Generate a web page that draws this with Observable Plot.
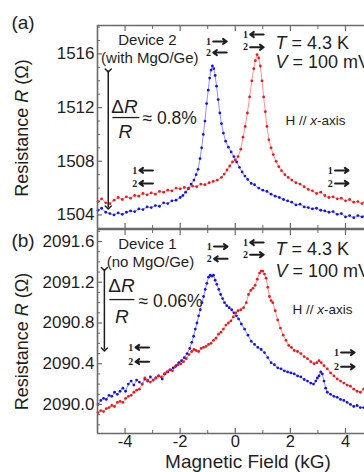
<!DOCTYPE html>
<html><head><meta charset="utf-8">
<script src="https://cdn.jsdelivr.net/npm/d3@7"></script>
<script src="https://cdn.jsdelivr.net/npm/@observablehq/plot@0.6"></script>
<style>
body{margin:0;background:#fff;}
#wrap{position:relative;width:364px;height:472px;overflow:hidden;background:#fff;}
#wrap svg{position:absolute;left:0;}
text{white-space:pre;}
</style></head><body><div id="wrap"></div>
<script>
// ---------- Panel (a): Device 2 (with MgO/Ge) ----------
const fieldBlueA = [-4.98,-4.85,-4.7,-4.55,-4.4,-4.25,-4.1,-3.95,-3.8,-3.65,-3.5,-3.35,-3.2,-3.05,-2.9,-2.75,-2.6,-2.45,-2.3,-2.15,-2.0,-1.9,-1.8,-1.7,-1.6,-1.5,-1.42,-1.35,-1.28,-1.22,-1.16,-1.1,-1.04,-0.98,-0.93,-0.88,-0.83,-0.78,-0.73,-0.68,-0.62,-0.56,-0.5,-0.43,-0.35,-0.25,-0.15,-0.05,0.05,0.15,0.25,0.35,0.45,0.58,0.7,0.85,1.0,1.15,1.3,1.45,1.6,1.75,1.9,2.05,2.2,2.35,2.5,2.65,2.8,2.95,3.1,3.25,3.4,3.55,3.7,3.85,4.0,4.15,4.3,4.45,4.6,4.7];
const resBlueA = [1504.35,1504.5,1504.2,1504.1,1504.0,1504.15,1504.05,1504.2,1504.3,1504.25,1504.45,1504.4,1504.6,1504.55,1504.7,1504.65,1504.9,1504.85,1505.05,1505.1,1505.3,1505.45,1505.7,1505.95,1506.3,1506.6,1507.0,1507.4,1508.2,1509.0,1510.0,1511.0,1512.3,1513.3,1514.2,1514.8,1515.1,1514.9,1514.4,1513.6,1512.6,1511.6,1510.8,1510.1,1509.5,1509.05,1508.7,1508.35,1507.95,1507.55,1507.2,1506.9,1506.65,1506.35,1506.25,1506.0,1505.85,1505.75,1505.55,1505.4,1505.3,1505.15,1505.05,1504.95,1504.75,1504.8,1504.6,1504.55,1504.45,1504.5,1504.35,1504.3,1504.2,1504.25,1504.05,1504.1,1503.85,1503.95,1503.8,1503.95,1503.85,1503.9];
const fieldRedA = [-4.98,-4.85,-4.7,-4.55,-4.4,-4.25,-4.1,-3.95,-3.8,-3.65,-3.5,-3.35,-3.2,-3.05,-2.9,-2.75,-2.6,-2.45,-2.3,-2.15,-2.0,-1.85,-1.7,-1.55,-1.4,-1.25,-1.1,-0.95,-0.8,-0.65,-0.5,-0.4,-0.3,-0.2,-0.1,0.0,0.1,0.2,0.28,0.36,0.44,0.52,0.6,0.67,0.73,0.79,0.85,0.91,0.97,1.03,1.09,1.15,1.22,1.3,1.38,1.48,1.58,1.68,1.8,1.92,2.05,2.2,2.35,2.5,2.65,2.8,2.95,3.1,3.25,3.4,3.55,3.7,3.85,4.0,4.15,4.3,4.45,4.6,4.7];
const resRedA = [1505.0,1505.2,1504.9,1504.85,1505.1,1505.3,1505.15,1505.35,1505.25,1505.45,1505.4,1505.6,1505.5,1505.65,1505.55,1505.75,1505.7,1505.85,1505.8,1506.0,1505.95,1506.05,1506.0,1506.15,1506.1,1506.3,1506.25,1506.4,1506.5,1506.6,1506.8,1507.05,1507.35,1507.65,1507.95,1508.1,1508.35,1508.9,1509.8,1510.6,1511.6,1512.8,1514.0,1514.9,1515.5,1515.95,1515.7,1515.1,1514.0,1512.8,1511.7,1510.6,1509.6,1509.0,1508.5,1508.0,1507.6,1507.3,1507.0,1506.8,1506.6,1506.4,1506.3,1506.1,1505.9,1505.8,1505.6,1505.7,1505.45,1505.3,1505.35,1505.2,1505.25,1505.05,1505.15,1504.95,1505.0,1504.85,1504.95];

// ---------- Panel (b): Device 1 (no MgO/Ge) ----------
const fieldBlueB = [-4.98,-4.88,-4.78,-4.68,-4.58,-4.48,-4.38,-4.28,-4.18,-4.08,-3.98,-3.88,-3.78,-3.68,-3.58,-3.48,-3.38,-3.28,-3.18,-3.08,-2.98,-2.88,-2.78,-2.65,-2.55,-2.45,-2.35,-2.25,-2.15,-2.05,-1.95,-1.85,-1.75,-1.65,-1.58,-1.51,-1.45,-1.39,-1.33,-1.27,-1.21,-1.15,-1.09,-1.03,-0.97,-0.91,-0.85,-0.79,-0.73,-0.67,-0.6,-0.53,-0.46,-0.39,-0.31,-0.22,-0.13,-0.05,0.04,0.12,0.22,0.34,0.46,0.58,0.7,0.82,0.94,1.06,1.18,1.3,1.42,1.54,1.66,1.78,1.9,2.02,2.14,2.26,2.38,2.5,2.62,2.74,2.84,2.92,2.98,3.04,3.1,3.16,3.22,3.28,3.34,3.46,3.58,3.7,3.82,3.94,4.06,4.18,4.3,4.42,4.54,4.66];
const resBlueB = [2090.0,2090.04,2090.06,2090.05,2090.09,2090.08,2090.12,2090.1,2090.13,2090.16,2090.13,2090.2,2090.23,2090.19,2090.24,2090.22,2090.2,2090.25,2090.23,2090.27,2090.24,2090.26,2090.28,2090.25,2090.3,2090.32,2090.34,2090.36,2090.38,2090.41,2090.43,2090.46,2090.5,2090.55,2090.61,2090.67,2090.74,2090.8,2090.87,2090.93,2091.0,2091.06,2091.13,2091.19,2091.25,2091.27,2091.26,2091.27,2091.22,2091.18,2091.13,2091.08,2091.04,2091.0,2090.97,2090.95,2090.93,2090.9,2090.87,2090.84,2090.79,2090.74,2090.68,2090.62,2090.59,2090.56,2090.54,2090.51,2090.46,2090.41,2090.39,2090.36,2090.35,2090.33,2090.32,2090.31,2090.3,2090.28,2090.27,2090.245,2090.23,2090.21,2090.2,2090.23,2090.26,2090.28,2090.32,2090.3,2090.23,2090.16,2090.12,2090.1,2090.08,2090.07,2090.05,2090.04,2090.02,2090.0,2089.98,2089.99,2089.97,2089.97];
const fieldRedB = [-4.98,-4.88,-4.78,-4.68,-4.58,-4.48,-4.38,-4.28,-4.18,-4.08,-3.98,-3.88,-3.78,-3.68,-3.58,-3.48,-3.38,-3.28,-3.18,-3.08,-2.98,-2.88,-2.78,-2.68,-2.58,-2.48,-2.38,-2.28,-2.18,-2.08,-1.98,-1.88,-1.78,-1.68,-1.58,-1.5,-1.42,-1.33,-1.24,-1.15,-1.06,-0.97,-0.88,-0.79,-0.7,-0.61,-0.52,-0.43,-0.34,-0.25,-0.16,-0.07,0.02,0.1,0.2,0.3,0.4,0.48,0.56,0.64,0.72,0.8,0.88,0.94,1.0,1.06,1.12,1.18,1.24,1.3,1.36,1.45,1.54,1.64,1.74,1.84,1.94,2.04,2.14,2.26,2.38,2.5,2.62,2.74,2.86,2.96,3.04,3.12,3.22,3.34,3.46,3.58,3.7,3.82,3.94,4.06,4.18,4.3,4.42,4.54,4.66];
const resRedB = [2089.92,2089.94,2089.93,2089.96,2089.97,2089.99,2089.98,2090.02,2090.03,2090.02,2090.06,2090.08,2090.09,2090.12,2090.14,2090.15,2090.2,2090.26,2090.24,2090.22,2090.24,2090.26,2090.28,2090.27,2090.3,2090.32,2090.34,2090.33,2090.37,2090.39,2090.4,2090.42,2090.45,2090.49,2090.52,2090.54,2090.53,2090.52,2090.55,2090.56,2090.57,2090.59,2090.6,2090.63,2090.65,2090.69,2090.71,2090.74,2090.78,2090.8,2090.82,2090.86,2090.9,2090.92,2090.93,2090.95,2091.0,2091.08,2091.12,2091.14,2091.17,2091.23,2091.29,2091.31,2091.31,2091.28,2091.24,2091.15,2091.06,2091.02,2091.0,2090.92,2090.83,2090.75,2090.68,2090.63,2090.58,2090.56,2090.53,2090.52,2090.5,2090.47,2090.45,2090.42,2090.4,2090.41,2090.43,2090.41,2090.38,2090.35,2090.31,2090.28,2090.25,2090.23,2090.21,2090.19,2090.18,2090.15,2090.13,2090.12,2090.15];

// ---------- Ticks ----------
const xTicksMajor = [-4, -2, 0, 2, 4];
const xTicksMinor = [-5, -3, -1, 1, 3];
const yTicksMajorA = [1504, 1508, 1512, 1516];
const yTicksMinorA = [1503, 1505, 1506, 1507, 1509, 1510, 1511, 1513, 1514, 1515, 1517, 1518];
const yTicksMajorB = [2090.0, 2090.4, 2090.8, 2091.2, 2091.6];
const yTicksMinorB = d3.range(20898, 20918).map(v => v / 10).filter(v => !yTicksMajorB.some(m => Math.abs(m - v) < 1e-6));

// ---------- Styles ----------
const FONT = '"Liberation Sans", Arial, sans-serif';
const axisColor = "#6a6a6a";
const ink = "#1e1e1e";
const redDot = "#f01818", redLine = "#ff9090";
const blueDot = "#1414e6", blueLine = "#8f8fff";
const xDomain = [-5, 4.69];

const rich = {
  "Resistance R (Ω)": [["Resistance ", false], ["R", true], [" (Ω)", false]],
  "T = 4.3 K": [["T", true], [" = 4.3 K", false]],
  "V = 100 mV": [["V", true], [" = 100 mV", false]],
  "H // x-axis": [["H // ", false], ["x", true], ["-axis", false]],
  "ΔR": [["Δ", false], ["R", true]],
  "R": [["R", true]]
};
function richify(svg) {
  d3.select(svg).selectAll("text").each(function () {
    const parts = rich[this.textContent];
    if (!parts) return;
    const t = d3.select(this);
    t.text(null);
    parts.forEach(([s, it]) => t.append("tspan").attr("font-style", it ? "italic" : "normal").text(s));
  });
}

function series(H, R) { return H.map((h, i) => ({h, r: R[i]})); }

const tickY = (ticks, size, w) => Plot.axisY(ticks, {anchor: "left", tickSize: size, fill: "none", label: null, stroke: axisColor, strokeWidth: w});
const tickX = (ticks, anchor, size, w) => Plot.axisX(ticks, {anchor, tickSize: size, fill: "none", label: null, stroke: axisColor, strokeWidth: w});

function panel(cfg) {
  const blue = series(cfg.blueH, cfg.blueR);
  const red = series(cfg.redH, cfg.redR);
  const yD = cfg.yDomain;
  const marks = [
    // data
    Plot.line(blue, {x: "h", y: "r", stroke: blueLine, strokeWidth: 1}),
    Plot.line(red, {x: "h", y: "r", stroke: redLine, strokeWidth: 1}),
    Plot.dot(blue, {x: "h", y: "r", r: 1.4, fill: blueDot}),
    Plot.dot(red, {x: "h", y: "r", r: 1.4, fill: redDot}),
    // frame
    Plot.ruleX([xDomain[0]], {stroke: axisColor, strokeWidth: 1.6}),
    Plot.ruleY([yD[0]], {stroke: axisColor, strokeWidth: 1.6}),
    Plot.ruleY([yD[1]], {stroke: axisColor, strokeWidth: 1.6}),
    // inward ticks
    tickY(cfg.yMajor, -5, 1.2),
    tickY(cfg.yMinor, -3, 1),
    tickX(xTicksMajor, "bottom", -5, 1.2),
    tickX(xTicksMinor, "bottom", -3, 1),
    tickX(xTicksMajor, "top", -5, 1.2),
    tickX(xTicksMinor, "top", -3, 1),
    Plot.axisY(cfg.yMajor, {anchor: "left", tickSize: 0, tickPadding: 3, tickFormat: cfg.yFormat, fontSize: 17, fill: ink, label: null}),
    // y title
    Plot.text(["Resistance R (Ω)"], {frameAnchor: "left", textAnchor: "middle", lineAnchor: "middle", dx: -75, dy: cfg.titleDy, rotate: -90, fontSize: 18, fill: ink}),
    // panel letter
    Plot.text([cfg.letter], {frameAnchor: "top-left", textAnchor: "middle", lineAnchor: "middle", dx: -74.5, dy: cfg.letterDy, fontSize: 19, fill: ink}),
    // device labels
    Plot.text(cfg.device, {x: "h", y: "r", text: "t", fontSize: 15, fill: ink}),
    // conditions
    Plot.text(cfg.cond, {x: "h", y: "r", text: "t", fontSize: 18, textAnchor: "start", fill: ink}),
    Plot.text(cfg.hx, {x: "h", y: "r", text: "t", fontSize: 13.5, textAnchor: "start", fill: ink}),
    // Delta R / R
    Plot.link(cfg.bigArrow, {x1: "h", x2: "h", y1: "r1", y2: "r2", stroke: ink, strokeWidth: 1.5, markerStart: "arrow", markerEnd: "arrow"}),
    Plot.text(cfg.frac, {x: "h", y: "r", text: "t", fontSize: 19, fill: ink}),
    Plot.link(cfg.fracBar, {x1: "h1", x2: "h2", y1: "r", y2: "r", stroke: ink, strokeWidth: 1.3}),
    Plot.text(cfg.ratio, {x: "h", y: "r", text: "t", fontSize: 17.5, textAnchor: "start", fill: ink}),
    // sweep direction labels
    Plot.text(cfg.sweeps, {x: "h", y: "r", text: "n", fontSize: 10, fontWeight: "bold", fontFamily: '"Liberation Serif", serif', fill: ink}),
    Plot.arrow(cfg.sweeps, {
      x1: d => d.h + (d.dir > 0 ? 0.17 : 0.66), x2: d => d.h + (d.dir > 0 ? 0.66 : 0.17),
      y1: "r", y2: "r", stroke: ink, strokeWidth: 2, headLength: 5.5, headAngle: 70
    })
  ];
  if (cfg.showX) {
    marks.push(Plot.axisX(xTicksMajor, {anchor: "bottom", tickSize: 0, tickPadding: 1.5, tickFormat: d => String(d), fontSize: 16.5, fill: ink, label: null}));
    marks.push(Plot.text(["Magnetic Field (kG)"], {frameAnchor: "bottom", textAnchor: "middle", lineAnchor: "middle", dx: 17, dy: 28.5, fontSize: 19, fill: ink}));
  }
  const svg = Plot.plot({
    width: 364, height: cfg.height,
    marginLeft: 97, marginRight: 0, marginTop: cfg.marginTop, marginBottom: cfg.marginBottom,
    style: {fontFamily: FONT, background: "none", overflow: "visible", color: ink},
    x: {domain: xDomain, axis: null},
    y: {domain: yD, axis: null},
    marks
  });
  richify(svg);
  return svg;
}

const svgB = panel({
  blueH: fieldBlueB, blueR: resBlueB, redH: fieldRedB, redR: resRedB,
  yDomain: [2089.715, 2091.718], yMajor: yTicksMajorB, yMinor: yTicksMinorB, yFormat: d3.format(".1f"),
  height: 244, marginTop: 1, marginBottom: 39, showX: true, titleDy: 10,
  letter: "(b)", letterDy: 11,
  device: [{h: -3.19, r: 2091.57, t: "Device 1"}, {h: -3.08, r: 2091.40, t: "(no MgO/Ge)"}],
  cond: [{h: 1.46, r: 2091.52, t: "T = 4.3 K"}, {h: 1.46, r: 2091.31, t: "V = 100 mV"}],
  hx: [{h: 2.08, r: 2090.93, t: "H // x-axis"}],
  bigArrow: [{h: -4.75, r1: 2091.33, r2: 2090.54}],
  frac: [{h: -4.13, r: 2091.16, t: "ΔR"}, {h: -4.12, r: 2090.86, t: "R"}],
  fracBar: [{h1: -4.57, h2: -3.66, r: 2091.03}],
  ratio: [{h: -3.51, r: 2091.01, t: "≈ 0.06%"}],
  sweeps: [
    {h: -0.94, r: 2091.55, n: "1", dir: 1}, {h: -0.94, r: 2091.43, n: "2", dir: -1},
    {h: 0.37, r: 2091.59, n: "1", dir: -1}, {h: 0.37, r: 2091.47, n: "2", dir: 1},
    {h: -3.79, r: 2090.56, n: "1", dir: -1}, {h: -3.79, r: 2090.42, n: "2", dir: -1},
    {h: 3.67, r: 2090.51, n: "1", dir: 1}, {h: 3.67, r: 2090.37, n: "2", dir: 1}
  ]
});
svgB.style.top = "228px";

const svgA = panel({
  blueH: fieldBlueA, blueR: resBlueA, redH: fieldRedA, redR: resRedA,
  yDomain: [1502.99, 1518.12], yMajor: yTicksMajorA, yMinor: yTicksMinorA, yFormat: d => String(d),
  height: 229, marginTop: 25, marginBottom: 1, showX: false, titleDy: 1,
  letter: "(a)", letterDy: -3,
  device: [{h: -3.19, r: 1517.0, t: "Device 2"}, {h: -3.10, r: 1515.70, t: "(with MgO/Ge)"}],
  cond: [{h: 1.46, r: 1516.78, t: "T = 4.3 K"}, {h: 1.46, r: 1515.36, t: "V = 100 mV"}],
  hx: [{h: 1.82, r: 1511.04, t: "H // x-axis"}],
  bigArrow: [{h: -4.61, r1: 1514.77, r2: 1504.56}],
  frac: [{h: -4.02, r: 1512.08, t: "ΔR"}, {h: -3.99, r: 1510.22, t: "R"}],
  fracBar: [{h1: -4.46, h2: -3.48, r: 1511.26}],
  ratio: [{h: -3.37, r: 1511.19, t: "≈ 0.8%"}],
  sweeps: [
    {h: -0.97, r: 1516.93, n: "1", dir: 1}, {h: -0.97, r: 1516.10, n: "2", dir: -1},
    {h: 0.37, r: 1517.45, n: "1", dir: -1}, {h: 0.37, r: 1516.5, n: "2", dir: 1},
    {h: -3.65, r: 1507.32, n: "1", dir: -1}, {h: -3.65, r: 1506.35, n: "2", dir: -1},
    {h: 3.45, r: 1507.32, n: "1", dir: 1}, {h: 3.45, r: 1506.35, n: "2", dir: 1}
  ]
});
svgA.style.top = "0px";

const wrap = document.getElementById("wrap");
wrap.appendChild(svgB);
wrap.appendChild(svgA);
</script></body></html>
